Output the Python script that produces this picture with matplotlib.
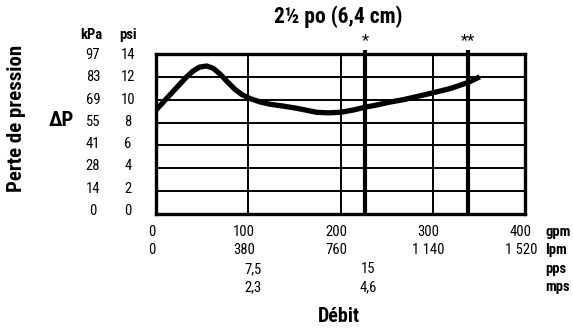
import matplotlib
matplotlib.use("Agg")
import matplotlib.pyplot as plt
from matplotlib import font_manager

names = sorted({f.name for f in font_manager.fontManager.ttflist})
FONT = ["DejaVu Sans"]
for cand in ["Liberation Sans Narrow", "Roboto Condensed", "Open Sans Condensed"]:
    if cand in names:
        FONT = [cand, "DejaVu Sans"]
        break
plt.rcParams["font.family"] = FONT
plt.rcParams["font.stretch"] = "condensed"

# Data (gpm, psi)
flow_gpm = [0, 8, 16, 24, 32, 40, 47, 55, 62, 70, 77, 85, 93, 102, 113, 124, 137, 149,
            162, 174, 187, 200, 214, 227, 240, 254, 268, 284, 300, 320, 338, 351]
loss_psi = [9.1, 9.8, 10.5, 11.2, 11.9, 12.5, 12.85, 12.95, 12.75, 12.2, 11.6, 10.95, 10.45,
            10.1, 9.8, 9.6, 9.45, 9.3, 9.1, 8.9, 8.85, 8.9, 9.1, 9.35, 9.55, 9.8, 10.0, 10.3,
            10.6, 11.0, 11.5, 12.0]

psi_ticks = [0, 2, 4, 6, 8, 10, 12, 14]
kpa_labels = ["0", "14", "28", "41", "55", "69", "83", "97"]
gpm_ticks = [0, 100, 200, 300, 400]
gpm_labels = ["0", "100", "200", "300", "400"]
lpm_labels = ["0", "380", "760", "1 140", "1 520"]
pps_pos = [105, 230]
pps_labels = ["7,5", "15"]
mps_labels = ["2,3", "4,6"]
marker_gpm = [227, 338]
marker_labels = ["*", "**"]

W, H = 573, 332
fig = plt.figure(figsize=(W / 100, H / 100), dpi=100)
L, R, T, B = 156, 525, 54, 214
ax = fig.add_axes([L / W, 1 - B / H, (R - L) / W, (B - T) / H])
ax.set_xlim(0, 400)
ax.set_ylim(0, 14)
ax.set_xticks([])
ax.set_yticks([])
for s in ax.spines.values():
    s.set_linewidth(2.4)
    s.set_color("black")

for y in psi_ticks[1:-1]:
    ax.axhline(y, color="black", lw=1.4, zorder=1)
for x in gpm_ticks[1:-1]:
    ax.axvline(x, color="black", lw=1.4, zorder=1)

for xm, lab in zip(marker_gpm, marker_labels):
    ax.plot([xm, xm], [0, 14.35], color="black", lw=3.0, clip_on=False, zorder=2, solid_capstyle="butt")
    ax.text(xm, 14.5, lab, ha="center", va="bottom", fontsize=12, clip_on=False)

ax.plot(flow_gpm, loss_psi, color="black", lw=3.8, solid_joinstyle="round",
        solid_capstyle="butt", zorder=3)

def px(x, y, s, **kw):
    fig.text(x / W, 1 - y / H, s, **kw)

fs = 10.5
px(338, 17, "2½ po (6,4 cm)", ha="center", va="center", fontsize=15.5, fontweight="bold")
px(17, 118, "Perte de pression", ha="center", va="center", fontsize=15, fontweight="bold", rotation=90)
px(61, 121, "ΔP", ha="center", va="center", fontsize=15, fontweight="bold")
px(91, 35, "kPa", ha="center", va="center", fontsize=fs, fontweight="bold")
px(128, 35, "psi", ha="center", va="center", fontsize=fs, fontweight="bold")

for p, k in zip(psi_ticks, kpa_labels):
    yy = 211 - (211 - 55) * p / 14
    px(93, yy, k, ha="center", va="center", fontsize=fs)
    px(128, yy, str(p), ha="center", va="center", fontsize=fs)

def xpix(g):
    return L + (R - L) * g / 400

for g, a, b in zip(gpm_ticks, gpm_labels, lpm_labels):
    xx = xpix(g) - 4
    px(xx, 232, a, ha="center", va="center", fontsize=fs)
    px(xx, 250, b, ha="center", va="center", fontsize=fs)
for g, a, b in zip(pps_pos, pps_labels, mps_labels):
    xx = xpix(g)
    px(xx, 269, a, ha="center", va="center", fontsize=fs)
    px(xx, 287, b, ha="center", va="center", fontsize=fs)

for yy, u in zip([232, 250, 269, 287], ["gpm", "lpm", "pps", "mps"]):
    px(545, yy, u, ha="left", va="center", fontsize=fs, fontweight="bold")

px(339, 316, "Débit", ha="center", va="center", fontsize=14.5, fontweight="bold")

fig.savefig("out.png", dpi=100)
